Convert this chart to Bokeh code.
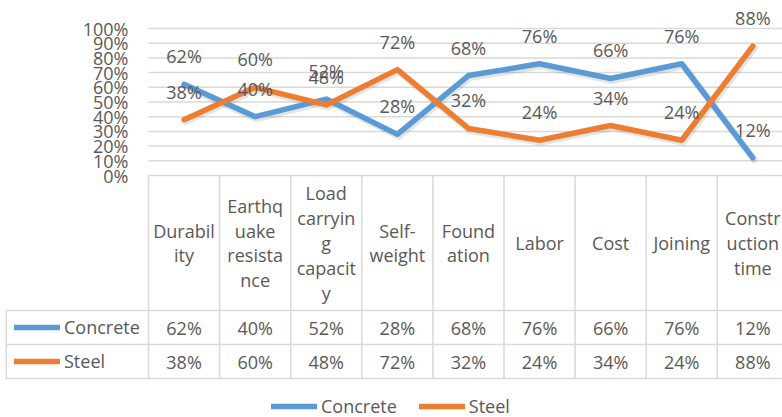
import numpy as np
from bokeh.plotting import figure
from bokeh.models import ColumnDataSource, Range1d, Legend, LegendItem
from bokeh.core.properties import value
from bokeh.transform import dodge
from bokeh.embed import file_html
from bokeh.resources import INLINE

# ---- data -------------------------------------------------------------
categories = [
    "Durabil\nity",
    "Earthq\nuake\nresista\nnce",
    "Load\ncarryin\ng\ncapacit\ny",
    "Self-\nweight",
    "Found\nation",
    "Labor",
    "Cost",
    "Joining",
    "Constr\nuction\ntime",
]
concrete = [0.62, 0.40, 0.52, 0.28, 0.68, 0.76, 0.66, 0.76, 0.12]
steel = [0.38, 0.60, 0.48, 0.72, 0.32, 0.24, 0.34, 0.24, 0.88]
series_names = ["Concrete", "Steel"]
y_ticks = [0.0, 0.1, 0.2, 0.3, 0.4, 0.5, 0.6, 0.7, 0.8, 0.9, 1.0]
y_tick_labels = ["0%", "10%", "20%", "30%", "40%", "50%", "60%", "70%", "80%", "90%", "100%"]

# ---- layout (pixels) --------------------------------------------------
W, H = 782, 417
PLOT_LEFT = 148          # left edge of first category column
COL_W = 71.1             # width of one category column
PLOT_TOP, PLOT_BOTTOM = 28, 175   # pixel rows of 100% and 0%
HEADER_BOTTOM = 310
ROW_H = 34
ROW_LABEL_COLS = 2.0     # row-header column spans two category widths

TEXT = "#595959"
LINE_GREY = "#D9D9D9"
BLUE = "#5B9BD5"
ORANGE = "#ED7D31"
FONT = value("Open Sans")
FS = "18px"

px_per_unit = PLOT_BOTTOM - PLOT_TOP


def ty(px):
    """Pixel row -> value units of the chart's y scale."""
    return (PLOT_BOTTOM - px) / px_per_unit


x_start = -PLOT_LEFT / COL_W
x_end = (W - PLOT_LEFT) / COL_W
y_start = ty(H)
y_end = ty(0)

n = len(categories)
xs = np.arange(n) + 0.5
pct = lambda v: f"{round(v * 100)}%"

src = ColumnDataSource(dict(
    x=xs, concrete=concrete, steel=steel,
    concrete_lbl=[pct(v) for v in concrete],
    steel_lbl=[pct(v) for v in steel],
    cat=categories,
))

p = figure(width=W, height=H, x_range=Range1d(x_start, x_end),
           y_range=Range1d(y_start, y_end), output_backend="svg",
           toolbar_location=None, x_axis_location=None, y_axis_location=None,
           min_border=0, outline_line_color=None)
p.grid.visible = False

# value gridlines and their labels
p.segment(x0=0, x1=x_end + 1, y0=y_ticks, y1=y_ticks, line_color=LINE_GREY, line_width=1.5)
p.text(x=0, y=y_ticks, text=y_tick_labels, x_offset=-20, text_align="right",
       text_baseline="middle", text_font=FONT, text_font_size=FS, text_color=TEXT)

# data table grid
row_lines = [ty(HEADER_BOTTOM), ty(HEADER_BOTTOM + ROW_H), ty(HEADER_BOTTOM + 2 * ROW_H)]
p.segment(x0=-ROW_LABEL_COLS, x1=x_end + 1, y0=row_lines, y1=row_lines,
          line_color=LINE_GREY, line_width=1.5)
col_edges = np.arange(n)
p.segment(x0=col_edges, x1=col_edges, y0=0, y1=row_lines[-1],
          line_color=LINE_GREY, line_width=1.5)
p.segment(x0=[-ROW_LABEL_COLS], x1=[-ROW_LABEL_COLS], y0=row_lines[0], y1=row_lines[-1],
          line_color=LINE_GREY, line_width=1.5)

# soft drop shadow under the series lines
sh_dx, sh_dy = 1.5 / COL_W, -2.0 / px_per_unit
for col in ("concrete", "steel"):
    p.line(x=dodge("x", sh_dx), y=dodge(col, sh_dy), source=src, line_color="black",
           line_alpha=0.10, line_width=7, line_join="round", line_cap="round")

# series lines
r_c = p.line(x="x", y="concrete", source=src, line_color=BLUE, line_width=5.5,
             line_join="round", line_cap="round")
r_s = p.line(x="x", y="steel", source=src, line_color=ORANGE, line_width=5.5,
             line_join="round", line_cap="round")

# data labels above each point
for col in ("concrete_lbl", "steel_lbl"):
    p.text(x="x", y=col.replace("_lbl", ""), text=col, source=src, y_offset=-28,
           text_align="center", text_baseline="middle", text_font=FONT,
           text_font_size=FS, text_color=TEXT)

# table header (category names) and values
p.text(x="x", y=ty((PLOT_BOTTOM + HEADER_BOTTOM) / 2), text="cat", source=src,
       text_align="center", text_baseline="middle", text_font=FONT,
       text_font_size=FS, text_color=TEXT, text_line_height=1.04)
p.text(x="x", y=ty(HEADER_BOTTOM + ROW_H / 2), text="concrete_lbl", source=src,
       text_align="center", text_baseline="middle", text_font=FONT,
       text_font_size=FS, text_color=TEXT)
p.text(x="x", y=ty(HEADER_BOTTOM + 1.5 * ROW_H), text="steel_lbl", source=src,
       text_align="center", text_baseline="middle", text_font=FONT,
       text_font_size=FS, text_color=TEXT)


def make_items():
    return [LegendItem(label=value(series_names[0]), renderers=[r_c]),
            LegendItem(label=value(series_names[1]), renderers=[r_s])]


legend_style = dict(glyph_width=46, label_standoff=4, padding=0, margin=0,
                    border_line_color=None, background_fill_alpha=0,
                    label_text_font="Open Sans", label_text_font_size=FS,
                    label_text_color=TEXT)

# row headers of the data table
row_legend = Legend(items=make_items(), location=(14, H - (HEADER_BOTTOM + 2 * ROW_H)),
                    orientation="vertical", glyph_height=ROW_H, label_height=ROW_H,
                    spacing=0, **legend_style)
p.add_layout(row_legend)

# legend below the table
bottom_legend = Legend(items=make_items(), location=(271, -1),
                       orientation="horizontal", glyph_height=16, label_height=16,
                       spacing=22, **legend_style)
p.add_layout(bottom_legend)

open("out.html", "w").write(file_html(p, INLINE))
